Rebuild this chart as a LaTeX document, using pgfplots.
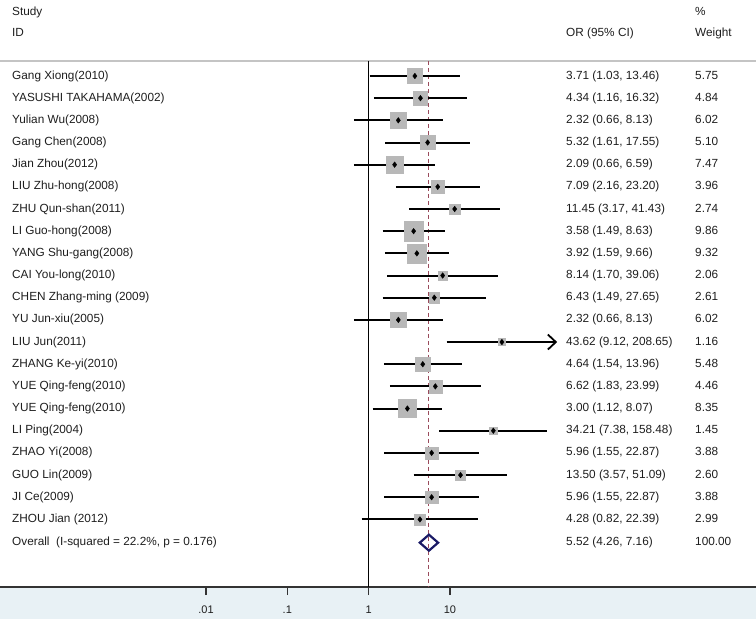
\documentclass[border=0pt]{standalone}
\usepackage{fontspec}
\setmainfont{Liberation Sans}
\usepackage{pgfplots}
\pgfplotsset{compat=1.18}
\usepackage{pgfplotstable}
\usetikzlibrary{arrows.meta}
\definecolor{boxgray}{HTML}{B8B8B8}
\definecolor{navyd}{HTML}{1A1A66}
\definecolor{refred}{HTML}{9A4B5C}
\definecolor{band}{HTML}{E8F1F5}
\definecolor{txt}{HTML}{1E1E1E}
\definecolor{sep}{HTML}{C4C4C4}

\pgfplotstableread[col sep=semicolon]{
y;name;or;lo;hi;w;ci
0;Gang Xiong(2010);3.71;1.03;13.46;5.75;3.71 (1.03, 13.46)
-1;YASUSHI TAKAHAMA(2002);4.34;1.16;16.32;4.84;4.34 (1.16, 16.32)
-2;Yulian Wu(2008);2.32;0.66;8.13;6.02;2.32 (0.66, 8.13)
-3;Gang Chen(2008);5.32;1.61;17.55;5.10;5.32 (1.61, 17.55)
-4;Jian Zhou(2012);2.09;0.66;6.59;7.47;2.09 (0.66, 6.59)
-5;LIU Zhu-hong(2008);7.09;2.16;23.20;3.96;7.09 (2.16, 23.20)
-6;ZHU Qun-shan(2011);11.45;3.17;41.43;2.74;11.45 (3.17, 41.43)
-7;LI Guo-hong(2008);3.58;1.49;8.63;9.86;3.58 (1.49, 8.63)
-8;YANG Shu-gang(2008);3.92;1.59;9.66;9.32;3.92 (1.59, 9.66)
-9;CAI You-long(2010);8.14;1.70;39.06;2.06;8.14 (1.70, 39.06)
-10;CHEN Zhang-ming (2009);6.43;1.49;27.65;2.61;6.43 (1.49, 27.65)
-11;YU Jun-xiu(2005);2.32;0.66;8.13;6.02;2.32 (0.66, 8.13)
-12;LIU Jun(2011);43.62;9.12;208.65;1.16;43.62 (9.12, 208.65)
-13;ZHANG Ke-yi(2010);4.64;1.54;13.96;5.48;4.64 (1.54, 13.96)
-14;YUE Qing-feng(2010);6.62;1.83;23.99;4.46;6.62 (1.83, 23.99)
-15;YUE Qing-feng(2010);3.00;1.12;8.07;8.35;3.00 (1.12, 8.07)
-16;LI Ping(2004);34.21;7.38;158.48;1.45;34.21 (7.38, 158.48)
-17;ZHAO Yi(2008);5.96;1.55;22.87;3.88;5.96 (1.55, 22.87)
-18;GUO Lin(2009);13.50;3.57;51.09;2.60;13.50 (3.57, 51.09)
-19;JI Ce(2009);5.96;1.55;22.87;3.88;5.96 (1.55, 22.87)
-20;ZHOU Jian (2012);4.28;0.82;22.39;2.99;4.28 (0.82, 22.39)
}\data

\newcommand\ci[3]{\addplot[black, line width=2bp, forget plot] coordinates {(#1,#3) (#2,#3)};}
\tikzset{tcol/.style={anchor=west, inner sep=0pt, text=txt, text height=8.6bp, text depth=2.5bp}}

\begin{document}
\begin{tikzpicture}
\useasboundingbox (0,0) rectangle (756bp,619bp);
\fill[band] (0,0) rectangle (756bp,32bp);
\begin{axis}[
  at={(0,32bp)}, anchor=south west,
  width=756bp, height=587bp, scale only axis,
  xmode=log, xmin=2.924e-5, xmax=58210,
  ymin=-23.049, ymax=3.428,
  hide y axis,
  axis x line*=bottom,
  x axis line style={color=black!80, line width=1.6bp},
  xtick={0.01,0.1,1,10}, xticklabels={.01,.1,1,10},
  xminorticks=false,
  tick align=outside, major tick length=8bp,
  x tick style={color=black!80, line width=1.3bp},
  xticklabel style={font=\fontsize{11bp}{13bp}\selectfont, text=txt, yshift=-7bp},
  /pgf/number format/assume math mode=true,
  clip=false,
  font=\fontsize{11.8bp}{14bp}\selectfont,
]
% top separator
\addplot[sep, line width=1.5bp] coordinates {(2.924e-5,0.677) (58210,0.677)};
% boxes
\addplot[boxgray, scatter, only marks, mark=square*, point meta=\thisrow{w},
  mark options={draw=boxgray, fill=boxgray},
  scatter/use mapped color={draw=boxgray, fill=boxgray},
  visualization depends on={3.15*sqrt(\thisrow{w}) \as \ms},
  scatter/@pre marker code/.append style={/tikz/mark size=\ms}]
  table[x=or, y=y]{\data};
% null line
\addplot[black, line width=1.3bp] coordinates {(1,0.677) (1,-23.049)};
% overall dashed line
\addplot[refred, line width=1.1bp, dash pattern=on 4bp off 3bp] coordinates {(5.52,0.677) (5.52,-23.049)};
% CIs
\ci{1.03}{13.46}{0}
\ci{1.16}{16.32}{-1}
\ci{0.66}{8.13}{-2}
\ci{1.61}{17.55}{-3}
\ci{0.66}{6.59}{-4}
\ci{2.16}{23.20}{-5}
\ci{3.17}{41.43}{-6}
\ci{1.49}{8.63}{-7}
\ci{1.59}{9.66}{-8}
\ci{1.70}{39.06}{-9}
\ci{1.49}{27.65}{-10}
\ci{0.66}{8.13}{-11}
\ci{1.54}{13.96}{-13}
\ci{1.83}{23.99}{-14}
\ci{1.12}{8.07}{-15}
\ci{7.38}{158.48}{-16}
\ci{1.55}{22.87}{-17}
\ci{3.57}{51.09}{-18}
\ci{1.55}{22.87}{-19}
\ci{0.82}{22.39}{-20}
\addplot[black, line width=2bp, -{Straight Barb[length=8bp,width=15bp,line width=1.8bp]}] coordinates {(9.12,-12) (208.65,-12)};
% point estimates
\addplot[only marks, mark=diamond*, mark size=2.8pt, black] table[x=or, y=y]{\data};
% overall diamond
\addplot[navyd, line width=2.2bp, line join=miter] coordinates {(4.26,-21.05) (5.52,-20.69) (7.16,-21.05) (5.52,-21.41)} -- cycle;
% text columns
\addplot[draw=none, mark=none, point meta=explicit symbolic,
  nodes near coords, nodes near coords style={tcol}]
  table[x expr=4.11e-5, y=y, meta=name]{\data};
\addplot[draw=none, mark=none, point meta=explicit symbolic,
  nodes near coords, nodes near coords style={tcol}]
  table[x expr=268, y=y, meta=ci]{\data};
\addplot[draw=none, mark=none, point meta=explicit symbolic,
  nodes near coords, nodes near coords style={tcol}]
  table[x expr=10350, y=y, meta=w]{\data};
% headers and overall row
\node[tcol] at (axis cs:4.11e-5,2.887) {Study};
\node[tcol] at (axis cs:4.11e-5,1.94) {ID};
\node[tcol] at (axis cs:268,1.94) {OR (95\% CI)};
\node[tcol] at (axis cs:10350,2.887) {\%};
\node[tcol] at (axis cs:10350,1.94) {Weight};
\node[tcol] at (axis cs:4.11e-5,-21.05) {Overall\ \ (I-squared = 22.2\%, p = 0.176)};
\node[tcol] at (axis cs:268,-21.05) {5.52 (4.26, 7.16)};
\node[tcol] at (axis cs:10350,-21.05) {100.00};
\end{axis}
\end{tikzpicture}
\end{document}
